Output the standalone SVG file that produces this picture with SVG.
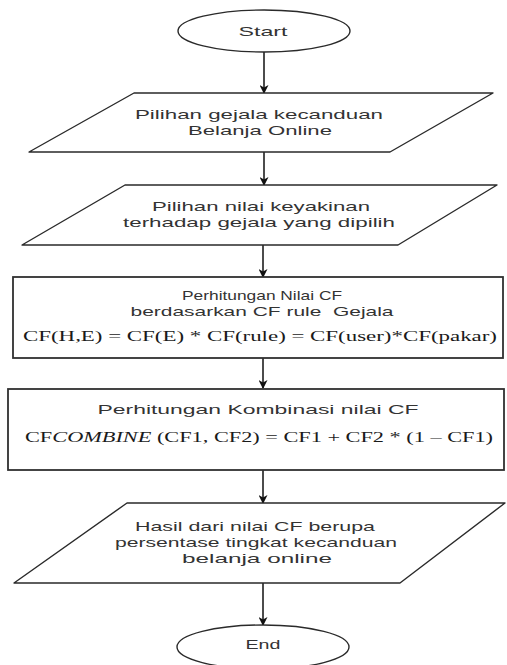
<svg xmlns="http://www.w3.org/2000/svg" width="507" height="665" viewBox="0 0 507 665">
  <style>
    .shape { fill: #ffffff; stroke: #2a2a2a; stroke-width: 1.4; stroke-linejoin: round; }
    .box { fill: #ffffff; stroke: #303030; stroke-width: 1.8; }
    .label { font-family: "Liberation Sans", Arial, sans-serif; font-size: 13.5px; fill: #333333; text-anchor: middle; }
    .formula { font-family: "Liberation Serif", "Times New Roman", serif; font-size: 15px; fill: #1a1a1a; text-anchor: middle; }
    .edge { stroke: #111111; stroke-width: 1.5; fill: none; marker-end: url(#arrow); }
  </style>
  <defs>
    <marker id="arrow" viewBox="0 0 10 10" refX="9" refY="5" markerWidth="10" markerHeight="9" markerUnits="userSpaceOnUse" orient="auto">
      <path d="M0,0 L10,5 L0,10 L3,5 Z" fill="#111111"/>
    </marker>
  </defs>
  <rect width="507" height="665" fill="#ffffff"/>

  <g id="connectors">
    <line class="edge" x1="264" y1="52" x2="264" y2="93"/>
    <line class="edge" x1="264" y1="152" x2="264" y2="185"/>
    <line class="edge" x1="263" y1="245" x2="263" y2="277"/>
    <line class="edge" x1="263" y1="358" x2="263" y2="388"/>
    <line class="edge" x1="263" y1="470" x2="263" y2="503"/>
    <line class="edge" x1="263" y1="583" x2="263" y2="625"/>
  </g>

  <g id="start">
    <ellipse class="shape" cx="264" cy="31" rx="86" ry="21"/>
    <text class="label" x="263" y="36" textLength="49" lengthAdjust="spacingAndGlyphs">Start</text>
  </g>

  <g id="input-gejala">
    <polygon class="shape" points="134,93 493,93 390,152 29,152"/>
    <text class="label" x="259" y="119" textLength="248" lengthAdjust="spacingAndGlyphs">Pilihan gejala kecanduan</text>
    <text class="label" x="260" y="135" textLength="144" lengthAdjust="spacingAndGlyphs">Belanja Online</text>
  </g>

  <g id="input-keyakinan">
    <polygon class="shape" points="125,185 497,185 398,245 22,245"/>
    <text class="label" x="261" y="211" textLength="218" lengthAdjust="spacingAndGlyphs">Pilihan nilai keyakinan</text>
    <text class="label" x="259" y="227" textLength="272" lengthAdjust="spacingAndGlyphs">terhadap gejala yang dipilih</text>
  </g>

  <g id="hitung-cf">
    <rect class="box" x="13" y="277" width="490" height="81"/>
    <text class="label" x="262" y="300" textLength="160" lengthAdjust="spacingAndGlyphs">Perhitungan Nilai CF</text>
    <text class="label" x="262" y="316" textLength="263" lengthAdjust="spacingAndGlyphs" xml:space="preserve">berdasarkan CF rule  Gejala</text>
    <text class="formula" x="260" y="341" textLength="474" lengthAdjust="spacingAndGlyphs">CF(H,E) = CF(E) * CF(rule) = CF(user)*CF(pakar)</text>
  </g>

  <g id="kombinasi-cf">
    <rect class="box" x="8" y="389" width="496" height="81"/>
    <text class="label" x="258" y="414" textLength="321" lengthAdjust="spacingAndGlyphs">Perhitungan Kombinasi nilai CF</text>
    <text class="formula" x="259" y="442" textLength="468" lengthAdjust="spacingAndGlyphs">CF<tspan font-style="italic">COMBINE</tspan> (CF1, CF2) = CF1 + CF2 * (1 – CF1)</text>
  </g>

  <g id="hasil">
    <polygon class="shape" points="127,503 505,503 400,583 14,583"/>
    <text class="label" x="255" y="531" textLength="240" lengthAdjust="spacingAndGlyphs">Hasil dari nilai CF berupa</text>
    <text class="label" x="256" y="547" textLength="282" lengthAdjust="spacingAndGlyphs">persentase tingkat kecanduan</text>
    <text class="label" x="257" y="563" textLength="150" lengthAdjust="spacingAndGlyphs">belanja online</text>
  </g>

  <g id="end">
    <ellipse class="shape" cx="263" cy="647" rx="86" ry="22"/>
    <text class="label" x="263" y="649" textLength="35" lengthAdjust="spacingAndGlyphs">End</text>
  </g>
</svg>
